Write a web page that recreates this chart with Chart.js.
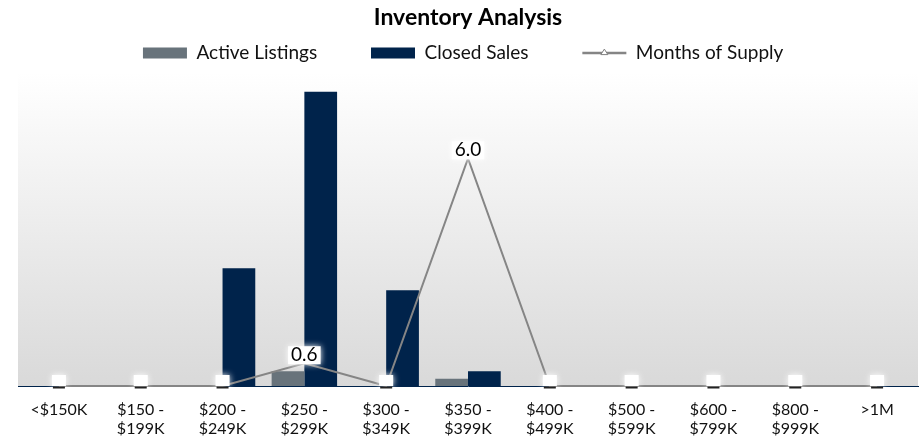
<!DOCTYPE html>
<html>
<head>
<meta charset="utf-8">
<script src="https://cdn.jsdelivr.net/npm/chart.js@4/dist/chart.umd.min.js"></script>
<style>
  html, body { margin: 0; padding: 0; background: #fff; }
  #wrap { width: 920px; height: 438px; position: relative; }
</style>
</head>
<body>
<div id="wrap"><canvas id="canvasGraph"></canvas></div>
<script>
// DATA
let categories = [["<$150K"], ["$150 -", "$199K"], ["$200 -", "$249K"], ["$250 -", "$299K"], ["$300 -", "$349K"],
                  ["$350 -", "$399K"], ["$400 -", "$499K"], ["$500 -", "$599K"], ["$600 -", "$799K"], ["$800 -", "$999K"], [">1M"]];
let activeListings = [0, 0, 0, 2, 0, 1, 0, 0, 0, 0, 0];
let closedSales = [0, 0, 16, 40, 13, 2, 0, 0, 0, 0, 0];
let monthsOfSupply = [0, 0, 0, 0.6, 0, 6.0, 0, 0, 0, 0, 0];

let FONT = "Lato, 'Open Sans', sans-serif";

// BACKGROUND GRADIENT IN PLOT
let bgPlugin = {
    id: 'bgPlugin',
    beforeDatasetsDraw(chart) {
        let ctx = chart.ctx;
        let a = chart.chartArea;
        let g = ctx.createLinearGradient(0, a.top, 0, a.bottom);
        g.addColorStop(0, '#ffffff');
        g.addColorStop(1, '#d9d9d9');
        ctx.save();
        ctx.fillStyle = g;
        ctx.fillRect(a.left, a.top, a.right - a.left, a.bottom - a.top);
        ctx.restore();
    }
};

// LABELS ON THE LINE + TRIANGLE IN LEGEND
let labelPlugin = {
    id: 'labelPlugin',
    afterDatasetsDraw(chart) {
        let ctx = chart.ctx;
        let meta = chart.getDatasetMeta(0);
        ctx.save();
        meta.data.forEach((pt, i) => {
            let v = monthsOfSupply[i];
            if (v === 0) {
                ctx.save();
                ctx.shadowColor = '#ffffff';
                ctx.shadowBlur = 6;
                ctx.fillStyle = '#ffffff';
                ctx.fillRect(pt.x - 7, pt.y - 11, 14, 11);
                ctx.restore();
                ctx.fillStyle = '#222';
                ctx.fillRect(pt.x - 6, pt.y + 0.5, 12, 2);
            } else {
                let txt = v.toFixed(1);
                ctx.font = '19px ' + FONT;
                let w = ctx.measureText(txt).width;
                let cy = pt.y - 8;
                ctx.save();
                ctx.shadowColor = '#ffffff';
                ctx.shadowBlur = 6;
                ctx.fillStyle = '#ffffff';
                ctx.fillRect(pt.x - w / 2 - 3, cy - 9, w + 6, 18);
                ctx.restore();
                ctx.fillStyle = '#000';
                ctx.textAlign = 'center';
                ctx.textBaseline = 'middle';
                ctx.fillText(txt, pt.x, cy);
            }
        });
        ctx.restore();
    },
    afterDraw(chart) {
        let lg = chart.legend;
        let idx = lg.legendItems.findIndex(it => it.datasetIndex === 0);
        let hb = lg.legendHitBoxes[idx];
        if (!hb) return;
        let ctx = chart.ctx;
        let cx = hb.left + 22;
        let cy = hb.top + hb.height / 2;
        ctx.save();
        ctx.beginPath();
        ctx.moveTo(cx, cy - 4);
        ctx.lineTo(cx + 3.5, cy + 1.5);
        ctx.lineTo(cx - 3.5, cy + 1.5);
        ctx.closePath();
        ctx.fillStyle = '#fff';
        ctx.fill();
        ctx.strokeStyle = '#808080';
        ctx.lineWidth = 1;
        ctx.stroke();
        ctx.restore();
    }
};

let ctx = document.getElementById('canvasGraph').getContext('2d');
let graph = new Chart(ctx, {
    type: 'bar',
    data: {
        labels: categories,
        datasets: [{
            type: 'line',
            label: 'Months of Supply',
            data: monthsOfSupply,
            yAxisID: 'y2',
            borderColor: '#858585',
            backgroundColor: '#858585',
            borderWidth: 2,
            pointRadius: 0,
            clip: false,
            order: 0
        }, {
            label: 'Active Listings',
            data: activeListings,
            backgroundColor: '#68737b',
            categoryPercentage: 0.8,
            barPercentage: 1.0,
            order: 1
        }, {
            label: 'Closed Sales',
            data: closedSales,
            backgroundColor: '#00234b',
            categoryPercentage: 0.8,
            barPercentage: 1.0,
            order: 2
        }]
    },
    options: {
        responsive: true,
        maintainAspectRatio: false,
        animation: false,
        layout: { padding: { left: 18, right: 2, top: 0, bottom: 0 } },
        plugins: {
            title: {
                display: true,
                text: 'Inventory Analysis',
                color: '#000',
                font: { family: FONT, size: 23, weight: 'bold', lineHeight: 1.2 },
                padding: { top: 4, bottom: 2 }
            },
            legend: {
                display: true,
                labels: {
                    color: '#111',
                    font: { family: FONT, size: 19 },
                    usePointStyle: true,
                    pointStyleWidth: 44,
                    boxHeight: 11,
                    padding: 10,
                    sort: (a, b) => [1, 2, 0].indexOf(a.datasetIndex) - [1, 2, 0].indexOf(b.datasetIndex),
                    generateLabels(chart) {
                        let items = Chart.defaults.plugins.legend.labels.generateLabels(chart);
                        items.forEach(it => {
                            if (it.datasetIndex === 0) {
                                it.pointStyle = 'line';
                                it.lineWidth = 2.5;
                                it.strokeStyle = '#858585';
                                it.text = it.text + '  ';
                            } else {
                                it.pointStyle = 'rect';
                                it.lineWidth = 0;
                                it.text = it.text + '         ';
                            }
                        });
                        return items;
                    }
                }
            },
            tooltip: { enabled: false }
        },
        scales: {
            x: {
                grid: { display: false, drawTicks: false },
                border: { display: true, color: '#00234b', width: 1 },
                ticks: {
                    color: '#111',
                    font: { family: FONT, size: 16, lineHeight: 1.2 },
                    padding: 14,
                    maxRotation: 0,
                    autoSkip: false
                },
                afterFit(scale) { scale.height = 52; }
            },
            y: { display: false, min: 0, max: 42.6 },
            y2: { display: false, min: 0, max: 8.26, position: 'right' }
        }
    },
    plugins: [bgPlugin, labelPlugin]
});
</script>
</body>
</html>
